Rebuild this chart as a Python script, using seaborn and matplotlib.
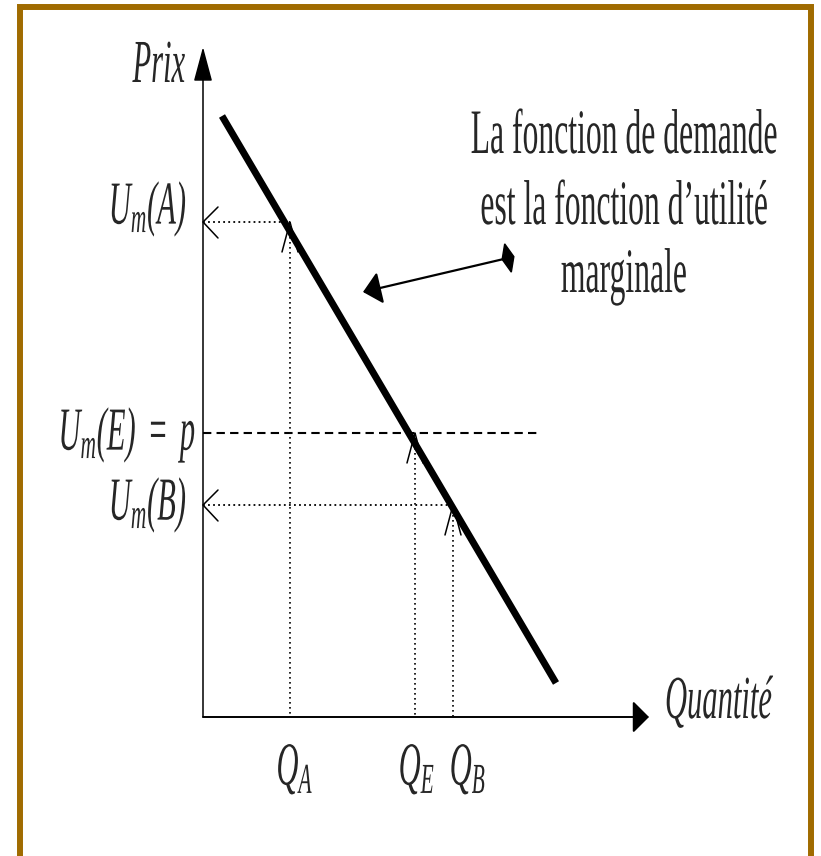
import matplotlib
matplotlib.use("Agg")
import matplotlib.pyplot as plt
import seaborn as sns
from matplotlib.patches import Rectangle, Polygon
from matplotlib.patheffects import AbstractPathEffect
from matplotlib.transforms import Affine2D

# demand curve end points (quantity, price), origin where the axes cross
demand_q = [0.19, 3.53]
demand_p = [6.01, 0.34]

# the three marked points on the curve
point_names = ["A", "E", "B"]
point_q = [0.87, 2.12, 2.50]
point_p = [4.95, 2.84, 2.12]

price_labels = [r"$U_m(A)$", r"$U_m(E)\ =\ p$", r"$U_m(B)$"]
qty_labels = [r"$Q_A$", r"$Q_E$", r"$Q_B$"]
note_lines = ["La fonction de demande", "est la fonction d’utilité", "marginale"]


class Tall(AbstractPathEffect):
    # stretch glyphs upward from the baseline, like the condensed Times of the original
    def __init__(self, sy=2.0):
        super().__init__()
        self.sy = sy

    def draw_path(self, renderer, gc, tpath, affine, rgbFace=None):
        renderer.draw_path(gc, tpath, Affine2D().scale(1, self.sy) + affine, rgbFace)


tall = [Tall(2.0)]

sns.set_theme(style="white")
plt.rcParams["font.family"] = ["Liberation Serif", "DejaVu Serif"]
plt.rcParams["mathtext.fontset"] = "custom"
plt.rcParams["mathtext.it"] = "Liberation Serif:italic"
plt.rcParams["mathtext.rm"] = "Liberation Serif:italic"
plt.rcParams["mathtext.default"] = "it"

fig = plt.figure(figsize=(8.21, 8.56), dpi=100)
ax = fig.add_axes([0, 0, 1, 1])
ax.set_xlim(-2.03, 6.18)
ax.set_ylim(-1.39, 7.17)
ax.axis("off")

# frame
ax.add_patch(Rectangle((-1.83, -1.8), 7.91, 8.9, fill=False, edgecolor="#A06B00",
                       lw=4.3, clip_on=False, joinstyle="miter"))

# axes with arrows
ax.annotate("", xy=(0, 6.70), xytext=(0, 0),
            arrowprops=dict(arrowstyle="-|>,head_length=21.6,head_width=5.8", mutation_scale=1,
                            lw=1.1, color="black", shrinkA=0, shrinkB=0))
ax.annotate("", xy=(4.46, 0), xytext=(0, 0),
            arrowprops=dict(arrowstyle="-|>,head_length=10,head_width=10", mutation_scale=1,
                            lw=1.4, color="black", shrinkA=0, shrinkB=0))

# guide lines
for name, q, p in zip(point_names, point_q, point_p):
    ax.plot([q, q], [p, 0], color="black", lw=1.2, ls=(0, (1, 2)))
    if name == "E":
        ax.plot([0, 3.35], [p, p], color="black", lw=1.5, ls=(0, (4, 2.5)))
    else:
        ax.plot([0, q], [p, p], color="black", lw=1.3, ls=(0, (1, 1.8)))
        ax.plot([0.15, 0, 0.15], [p + 0.15, p, p - 0.16], color="black", lw=1.1)
    ax.plot([q - 0.08, q, q + 0.08], [p - 0.30, p, p - 0.30], color="black", lw=1.1)

# demand curve
sns.lineplot(x=demand_q, y=demand_p, ax=ax, color="black", lw=5, solid_capstyle="butt")

# pointer from the note to the curve
tail = (3.05, 4.59)
tip = (1.60, 4.25)
ax.annotate("", xy=tip, xytext=tail,
            arrowprops=dict(arrowstyle="-|>,head_length=11,head_width=10", mutation_scale=1,
                            lw=1.6, color="black", shrinkA=0, shrinkB=0))
ux, uy = tail[0] - tip[0], tail[1] - tip[1]
n = (ux ** 2 + uy ** 2) ** 0.5
ux, uy = ux / n, uy / n
vx, vy = -uy, ux
ax.add_patch(Polygon([(tail[0] + 0.06 * ux, tail[1] + 0.06 * uy),
                      (tail[0] + 0.145 * vx, tail[1] + 0.145 * vy),
                      (tail[0] - 0.06 * ux, tail[1] - 0.06 * uy),
                      (tail[0] - 0.145 * vx, tail[1] - 0.145 * vy)],
                     closed=True, color="black"))

# texts
fs = 22
ax.text(-0.18, 6.35, "Prix", style="italic", fontsize=fs, ha="right", va="baseline",
        path_effects=tall)
ax.text(4.62, -0.01, "Quantité", style="italic", fontsize=fs, ha="left", va="baseline",
        path_effects=tall)

price_label_x = [-0.16, -0.07, -0.16]
price_label_y = [4.93, 2.67, 1.97]
for lab, x, y in zip(price_labels, price_label_x, price_label_y):
    ax.text(x, y, lab, fontsize=fs, ha="right", va="baseline", path_effects=tall)

qty_label_x = [0.92, 2.14, 2.65]
for lab, x in zip(qty_labels, qty_label_x):
    ax.text(x, -0.68, lab, fontsize=fs, ha="center", va="baseline", path_effects=tall)

note_y = [5.64, 4.93, 4.25]
for line, y in zip(note_lines, note_y):
    ax.text(4.21, y, line, fontsize=22.8, ha="center", va="baseline", path_effects=tall)

fig.savefig("out.png", dpi=100)
